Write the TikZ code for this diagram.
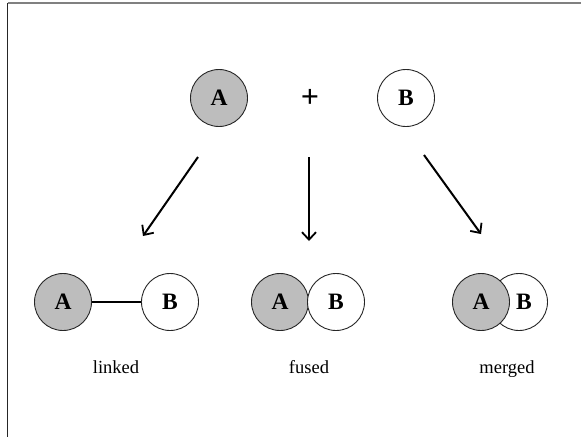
\documentclass[tikz,border=0pt]{standalone}
\usepackage{fontspec}
\setmainfont{Liberation Serif}
\usetikzlibrary{arrows.meta}
\begin{document}
\begin{tikzpicture}[x=1pt,y=-1pt,
  ballfont/.style={font=\fontsize{23.5}{23.5}\selectfont\bfseries},
  ball/.style={circle,draw=black!85,line width=0.9pt,minimum size=57pt,inner sep=0pt,ballfont},
  aball/.style={ball,fill=black!26},
  bball/.style={ball,fill=white},
  caption/.style={font=\fontsize{18.5}{18.5}\selectfont,anchor=base},
  pathway/.style={line width=2pt,-{Straight Barb[length=7.5pt,width=14pt,line width=1.8pt]}},
  frameline/.style={line width=1.3pt}]
\useasboundingbox (0,0) rectangle (581,437);
% open frame: top and left edges only
\draw[frameline,draw=black!50] (7.5,3) -- (581,3);
\draw[frameline,draw=black!85] (7.5,3) -- (7.5,437);

% reactants
\node[aball] (A) at (219,98) {A};
\node[font=\fontsize{32}{32}\selectfont\bfseries] (plus) at (310,98) {+};
\node[bball] (B) at (406,98) {B};

% arrow end points
\coordinate (s1) at (198,157); \coordinate (e1) at (143,236);
\coordinate (s2) at (309,157); \coordinate (e2) at (309,241);
\coordinate (s3) at (424,155); \coordinate (e3) at (481,234);
\draw[pathway] (s1) -- (e1);
\draw[pathway] (s2) -- (e2);
\draw[pathway] (s3) -- (e3);

% linked
\node[aball] (lA) at (63,302) {A};
\node[bball] (lB) at (170,302) {B};
\draw[line width=2.6pt] (lA) -- (lB);
\node[caption] (lt) at (116,373) {linked};

% fused
\node[aball] (fA) at (280,302) {A};
\node[bball] (fB) at (336,302) {B};
\node[caption] (ft) at (309,373) {fused};

% merged: B circle behind A, its letter set apart
\node[bball] (mB) at (519,302) {};
\node[aball] (mA) at (481,302) {A};
\node[ballfont] (mBt) at (524,302) {B};
\node[caption] (mt) at (507,373) {merged};
\end{tikzpicture}
\end{document}
